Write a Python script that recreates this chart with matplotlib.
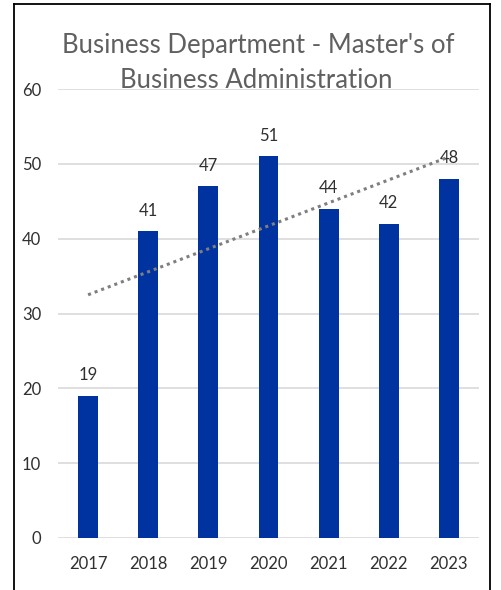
import numpy as np
import matplotlib
matplotlib.use("Agg")
import matplotlib.pyplot as plt
from matplotlib.lines import Line2D

years = ["2017", "2018", "2019", "2020", "2021", "2022", "2023"]
values = [19, 41, 47, 51, 44, 42, 48]
title_lines = ["Business Department - Master's of", "Business Administration"]

plt.rcParams['font.family'] = ['Lato', 'DejaVu Sans']

W, H = 501, 590
fig = plt.figure(figsize=(W / 100, H / 100), dpi=100)
ax = fig.add_axes([58 / W, 1 - 538 / H, (479 - 58) / W, (538 - 89) / H])

x = np.arange(len(years))
ax.bar(x, values, width=0.33, color="#0033A0", zorder=3)
ax.set_xlim(-0.5, len(years) - 0.5)
ax.set_ylim(0, 60)
ax.set_yticks(range(0, 61, 10))
ax.set_xticks(x)
ax.set_xticklabels(years)
ax.grid(axis='y', color="#d9d9d9", linewidth=1.2, zorder=0)
for s in ax.spines.values():
    s.set_visible(False)
ax.tick_params(length=0, labelsize=12, colors="#303030")
ax.tick_params(axis='y', pad=12)
ax.tick_params(axis='x', pad=13)

for xi, v in zip(x, values):
    ax.annotate(str(v), (xi, v), xytext=(0, 9), textcoords='offset points',
                ha='center', va='bottom', fontsize=12, color="#303030", zorder=4)

coef = np.polyfit(x, values, 1)
ax.plot(x, np.polyval(coef, x), linestyle=(0, (1, 1.3)), color="#7f7f7f",
        linewidth=2.2, zorder=5)

fig.text(258 / W, 1 - 45 / H, title_lines[0], ha='center', va='center',
         fontsize=18.5, color="#606060")
fig.text(256 / W, 1 - 80 / H, title_lines[1], ha='center', va='center',
         fontsize=18.5, color="#606060")

# frame around the chart
lc = "black"
fig.add_artist(Line2D([13.5 / W, 13.5 / W], [0, 1 - 3.5 / H], color=lc, lw=1.3))
fig.add_artist(Line2D([489.5 / W, 489.5 / W], [0, 1 - 3.5 / H], color=lc, lw=1.3))
fig.add_artist(Line2D([13.5 / W, 489.5 / W], [1 - 3.5 / H, 1 - 3.5 / H], color=lc, lw=1.3))

fig.savefig("out.png", dpi=100)
